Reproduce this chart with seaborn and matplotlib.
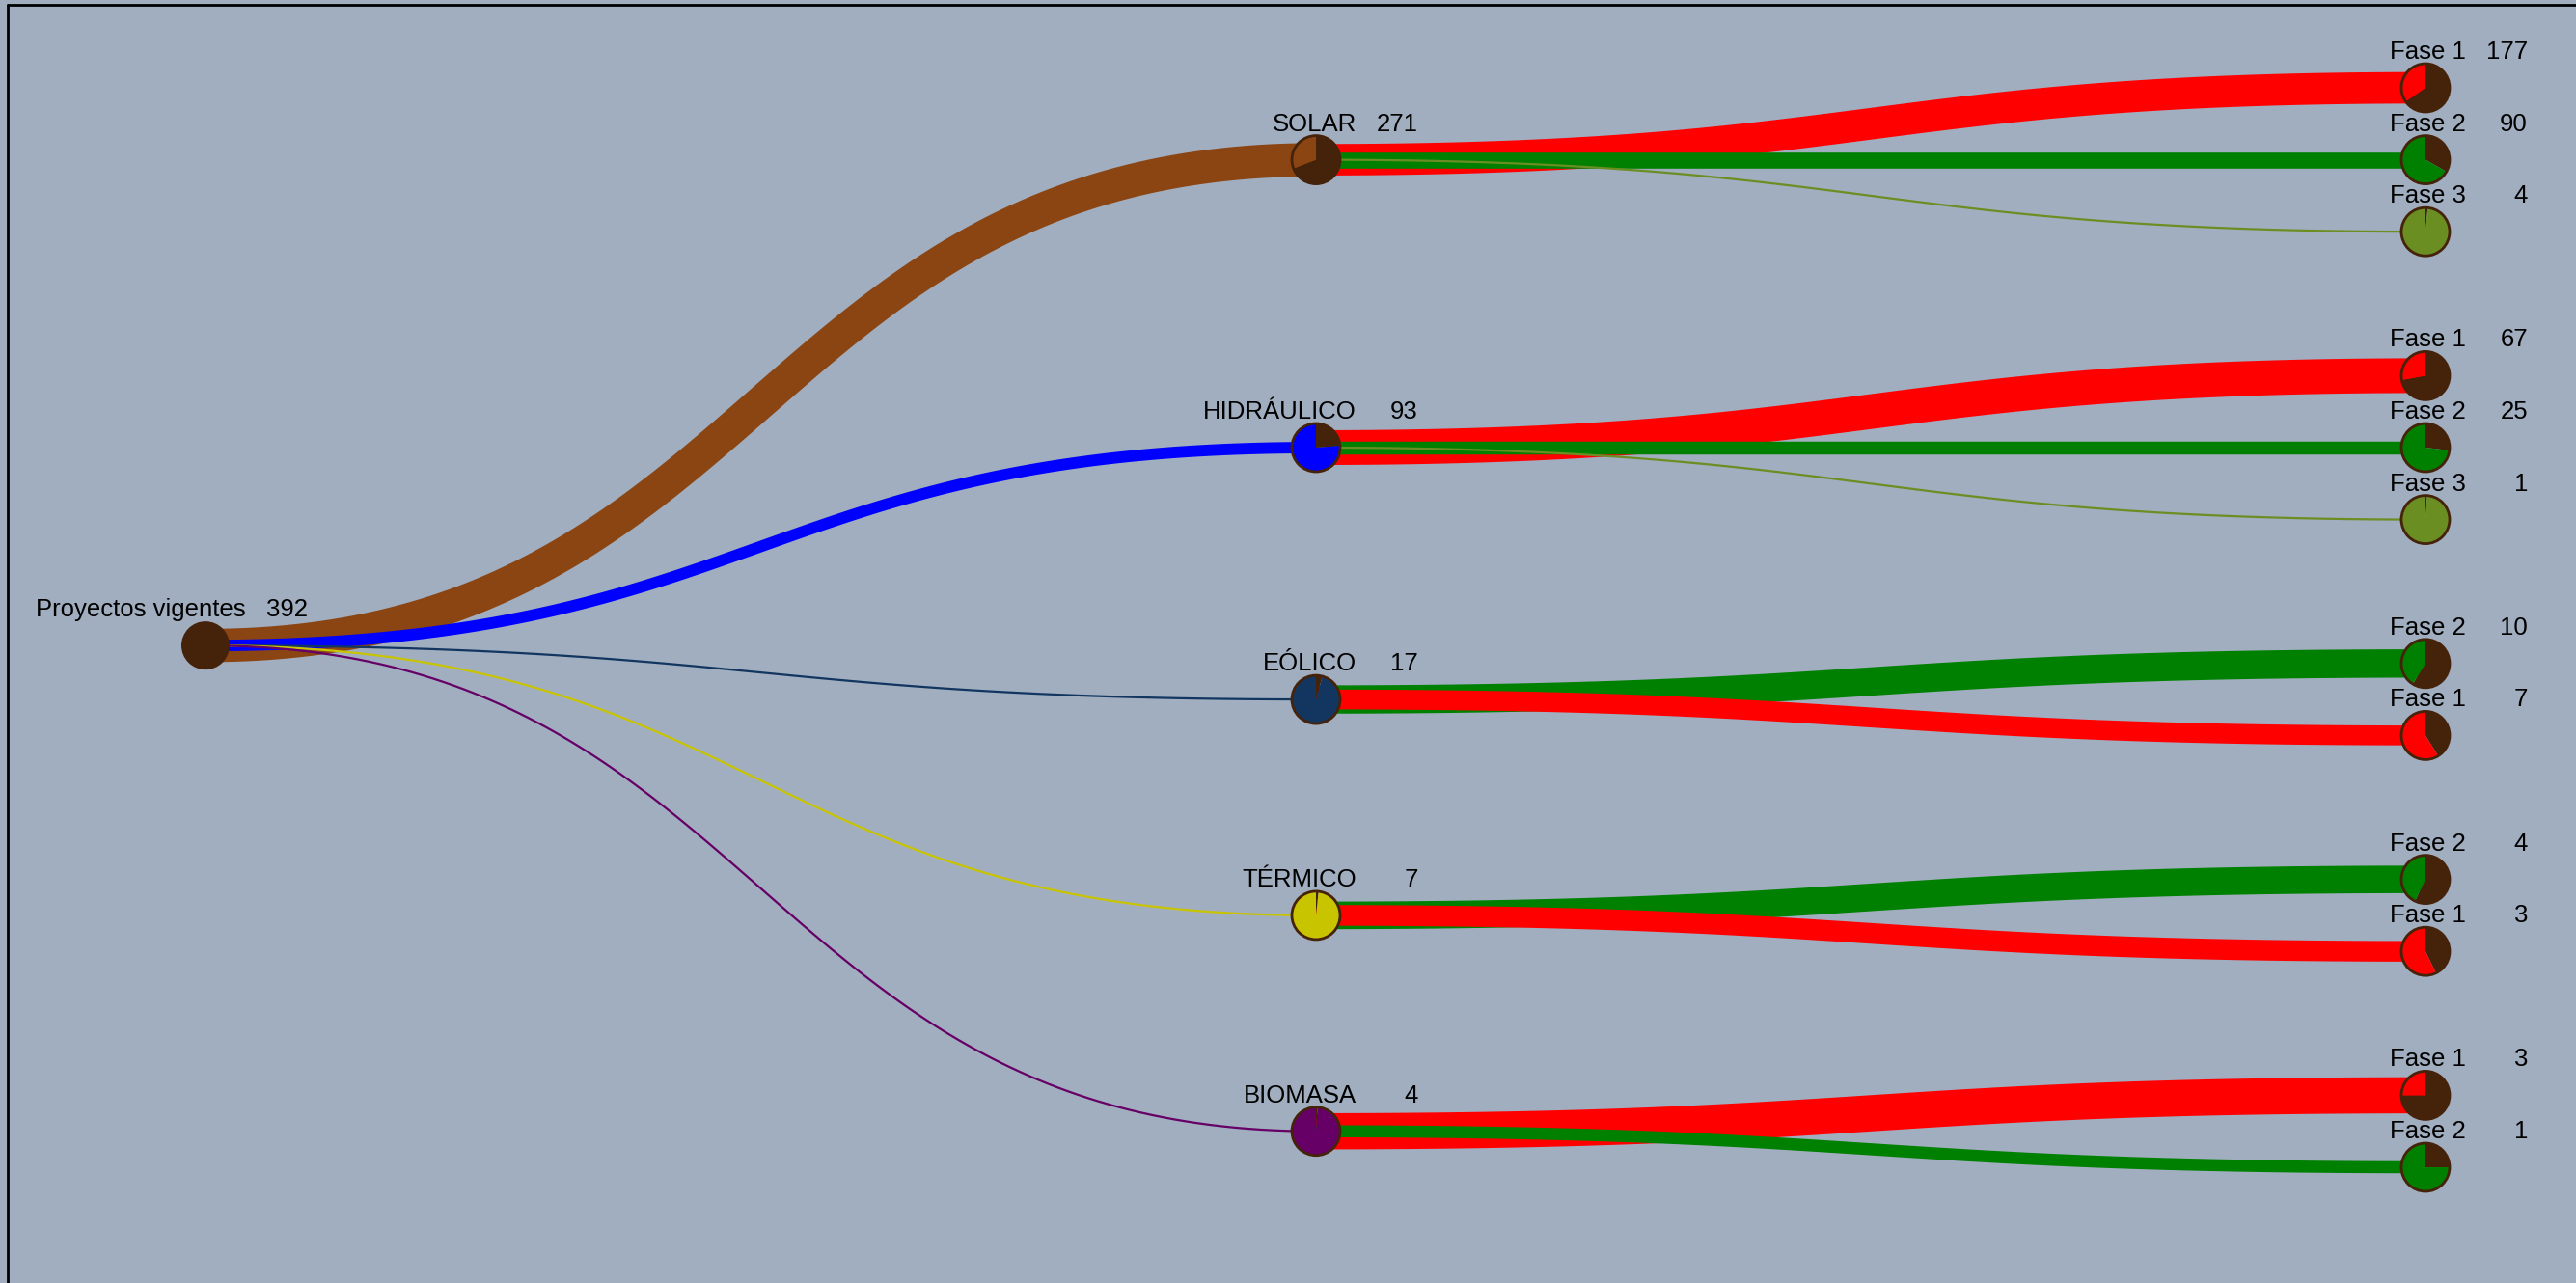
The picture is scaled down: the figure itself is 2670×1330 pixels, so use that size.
import numpy as np
import matplotlib
matplotlib.use("Agg")
import matplotlib.pyplot as plt
from matplotlib.patches import Wedge, Circle
import seaborn as sns

# data
root_name = "Proyectos vigentes"
root_total = 392

tech_names = ["SOLAR", "HIDRÁULICO", "EÓLICO", "TÉRMICO", "BIOMASA"]
tech_totals = [271, 93, 17, 7, 4]
tech_colors = ["#8B4513", "#0000FF", "#123660", "#C8C400", "#660066"]

phase_names = [["Fase 1", "Fase 2", "Fase 3"],
               ["Fase 1", "Fase 2", "Fase 3"],
               ["Fase 2", "Fase 1"],
               ["Fase 2", "Fase 1"],
               ["Fase 1", "Fase 2"]]
phase_values = [[177, 90, 4],
                [67, 25, 1],
                [10, 7],
                [4, 3],
                [3, 1]]
phase_colors = {"Fase 1": "#FF0000", "Fase 2": "#008000", "Fase 3": "#6B8E23"}

dark = "#45220A"
bg = "#A1AEBF"

W, H = 2670, 1330
sns.set_style("white")
plt.rcParams["font.family"] = ["Liberation Sans", "DejaVu Sans"]

fig = plt.figure(figsize=(W / 100, H / 100), dpi=100, facecolor=bg)
ax = fig.add_axes([0, 0, 1, 1])
ax.set_facecolor(bg)
ax.set_xlim(0, W)
ax.set_ylim(0, H)
ax.axis("off")

# layout (pixel coords, y from top)
x_levels = [213, 1364, 2514]
leaf_top, leaf_step = 91, 74.6
R = 25
WIDTH_PT = 36  # line width in points for a fraction of 1
MIN_PT = 1.6


def Y(y):
    return H - y


leaf_y = []
slot = 0
for vals in phase_values:
    ys = []
    for v in vals:
        ys.append(leaf_top + slot * leaf_step)
        slot += 1
    slot += 1
    leaf_y.append(ys)
tech_y = [(ys[0] + ys[-1]) / 2 for ys in leaf_y]
root_y = (tech_y[0] + tech_y[-1]) / 2


def link(x0, y0, x1, y1, color, frac):
    t = np.linspace(0, 1, 120)
    xm = (x0 + x1) / 2
    bx = (1 - t) ** 3 * x0 + 3 * (1 - t) ** 2 * t * xm + 3 * (1 - t) * t ** 2 * xm + t ** 3 * x1
    by = (1 - t) ** 3 * y0 + 3 * (1 - t) ** 2 * t * y0 + 3 * (1 - t) * t ** 2 * y1 + t ** 3 * y1
    sns.lineplot(x=bx, y=Y(by), color=color, linewidth=max(frac * WIDTH_PT, MIN_PT),
                 estimator=None, sort=False, ax=ax, solid_capstyle="butt", zorder=2)


def node(x, y, frac, color, name, value):
    cy = Y(y)
    if frac >= 1:
        ax.add_patch(Circle((x, cy), R, facecolor=dark, edgecolor="none", zorder=5))
    else:
        ax.add_patch(Wedge((x, cy), R, 90 - 360 * frac, 90, facecolor=dark,
                           edgecolor="none", zorder=5))
        ax.add_patch(Wedge((x, cy), R, 90, 450 - 360 * frac, facecolor=color,
                           edgecolor="none", zorder=5))
        ax.add_patch(Circle((x, cy), R, facecolor="none", edgecolor=dark,
                            linewidth=2, zorder=6))
    ax.text(x + 42, Y(y - 30), name, ha="right", va="baseline", fontsize=18.5,
            color="black", zorder=7)
    ax.text(x + 106, Y(y - 30), str(value), ha="right", va="baseline", fontsize=18.5,
            color="black", zorder=7)


# links root -> technologies
for i, tot in enumerate(tech_totals):
    link(x_levels[0], root_y, x_levels[1], tech_y[i], tech_colors[i], tot / root_total)

# links technologies -> phases
for i, vals in enumerate(phase_values):
    for j, v in enumerate(vals):
        link(x_levels[1], tech_y[i], x_levels[2], leaf_y[i][j],
             phase_colors[phase_names[i][j]], v / tech_totals[i])

node(x_levels[0], root_y, 1.0, dark, root_name, root_total)
for i, tot in enumerate(tech_totals):
    node(x_levels[1], tech_y[i], tot / root_total, tech_colors[i], tech_names[i], tot)
    for j, v in enumerate(phase_values[i]):
        node(x_levels[2], leaf_y[i][j], v / tot, phase_colors[phase_names[i][j]],
             phase_names[i][j], v)

# frame lines (left and top)
ax.plot([8, 8], [0, Y(5)], color="black", linewidth=2, zorder=8)
ax.plot([8, W], [Y(5), Y(5)], color="black", linewidth=2, zorder=8)

fig.savefig("out.png", dpi=100, facecolor=bg)
